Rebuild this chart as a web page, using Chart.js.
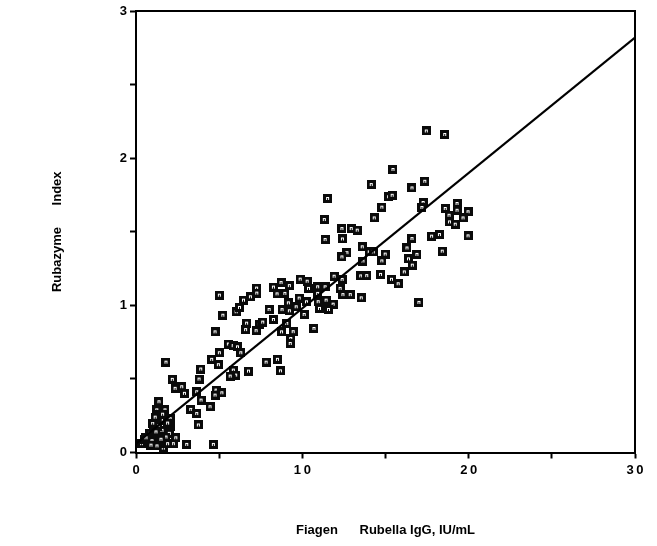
<!DOCTYPE html>
<html>
<head>
<meta charset="utf-8">
<title>Rubazyme vs Fiagen</title>
<script src="https://cdn.jsdelivr.net/npm/chart.js@4.4.1/dist/chart.umd.min.js"></script>
<style>
  html, body { margin: 0; padding: 0; background: #fff; }
  #wrap { width: 657px; height: 546px; }
</style>
</head>
<body>
<div id="wrap"><canvas id="chart" width="657" height="546"></canvas></div>
<script>
// Fiagen Rubella IgG (IU/mL) vs Rubazyme index

// x: Fiagen IU/mL
const fiagenValues = [
    0.34, 0.54, 0.84, 1.04, 1.14, 1.25, 1.38, 1.44, 1.44, 1.64, 1.64, 1.74, 2.05, 2.05, 2.0, 2.24, 2.39, 3.05, 4.65,
    0.72, 0.96, 1.26, 1.56, 1.8, 1.32, 0.6, 1.74,
    1.0, 1.2, 1.5, 1.9, 0.9, 1.15, 1.6, 1.9,
    1.80, 2.18, 2.35, 2.75, 2.91, 3.79, 3.65, 3.91, 3.89, 3.29, 3.65, 3.75, 4.45, 4.81, 5.16, 4.75,
    4.55, 4.95, 5.01, 5.55, 5.84, 6.10, 6.30, 4.75, 5.22, 6.02, 6.22, 5.85, 5.99, 5.66, 6.76, 7.82, 8.50, 8.68,
    5.01, 6.65, 6.59, 7.22, 7.42, 7.62, 8.26, 8.0, 6.46, 6.88, 7.25, 7.26, 8.26, 8.72, 9.22, 8.48, 8.95,
    9.87, 10.29, 10.37, 10.92, 11.37, 10.92, 9.81, 10.25, 10.95, 11.43, 11.85, 9.16, 8.78, 9.22, 9.63,
    11.03, 11.57, 10.11, 9.06, 8.75, 9.45, 9.30, 9.27, 10.70,
    11.91, 12.39, 12.27, 12.44, 12.88, 13.54, 13.51, 13.87, 14.70, 15.36, 15.76,
    12.68, 12.38, 13.64, 13.6, 14.02, 14.26, 14.98, 14.78,
    11.37, 12.41, 12.38, 12.94, 13.30, 11.32, 11.52, 14.32, 14.78, 15.19, 15.40, 14.14, 16.59, 17.36, 15.45,
    17.45, 18.56, 17.26, 17.19,
    18.59, 19.30, 19.30, 18.82, 19.96, 19.66, 18.85, 19.19, 19.96,
    17.77, 18.24, 18.41, 16.59, 16.29, 16.89, 16.38, 16.61, 16.13, 17.01
];

// y: Rubazyme index
const rubazymeValues = [
    0.06, 0.085, 0.13, 0.175, 0.11, 0.29, 0.345, 0.255, 0.085, 0.22, 0.03, 0.29, 0.23, 0.18, 0.13, 0.06, 0.10, 0.055, 0.055,
    0.06, 0.08, 0.045, 0.15, 0.105, 0.18, 0.10, 0.06,
    0.20, 0.14, 0.09, 0.20, 0.05, 0.24, 0.26, 0.06,
    0.614, 0.497, 0.436, 0.447, 0.402, 0.499, 0.413, 0.356, 0.567, 0.293, 0.265, 0.187, 0.311, 0.424, 0.406, 0.39,
    0.633, 0.597, 0.678, 0.737, 0.726, 0.718, 0.678, 0.82, 0.933, 0.956, 0.986, 0.56, 0.526, 0.519, 0.553, 0.614, 0.633, 0.555,
    1.069, 0.879, 0.835, 0.828, 0.872, 0.886, 0.904, 0.972, 1.035, 1.058, 1.117, 1.083, 1.124, 1.155, 1.134, 1.078, 1.081,
    1.178, 1.164, 1.115, 1.126, 1.126, 1.081, 1.049, 1.024, 1.025, 1.035, 1.008, 1.017, 0.971, 0.963, 0.99,
    0.979, 0.972, 0.938, 0.877, 0.82, 0.821, 0.775, 0.741, 0.843,
    1.198, 1.176, 1.115, 1.073, 1.073, 1.051, 1.20, 1.202, 1.21, 1.177, 1.147,
    1.358, 1.329, 1.301, 1.398, 1.363, 1.363, 1.348, 1.302,
    1.447, 1.451, 1.522, 1.522, 1.511, 1.583, 1.726, 1.594, 1.667, 1.738, 1.748, 1.821, 1.798, 1.843, 1.923,
    2.185, 2.161, 1.699, 1.665,
    1.658, 1.692, 1.646, 1.612, 1.636, 1.594, 1.567, 1.551, 1.472,
    1.47, 1.481, 1.368, 1.454, 1.39, 1.346, 1.316, 1.273, 1.227, 1.02
];

// regression line end points
const fitX = [0, 30];
const fitY = [0.06, 2.82];

// axis ticks
const xTickStep = 5;
const yTickStep = 0.5;

// Build a small black square marker with a light centre, like the printed symbol
function makeMarker() {
    const c = document.createElement('canvas');
    c.width = 9;
    c.height = 9;
    const g = c.getContext('2d');
    g.fillStyle = '#0a0a0a';
    g.fillRect(0, 0, 9, 9);
    g.fillStyle = '#fff';
    g.fillRect(3, 3, 3, 3);
    g.fillStyle = '#0a0a0a';
    g.fillRect(4, 4, 1, 2);
    return c;
}

// Draw top and right frame lines
const frame = {
    id: 'frame',
    afterDraw(chart) {
        const { ctx, chartArea: a } = chart;
        ctx.save();
        ctx.strokeStyle = '#000';
        ctx.lineWidth = 2;
        ctx.beginPath();
        ctx.moveTo(a.left, a.top);
        ctx.lineTo(a.right, a.top);
        ctx.lineTo(a.right, a.bottom);
        ctx.stroke();
        ctx.restore();
    }
};

const spaced = s => String(s).split('').join('\u2009');

const font = { family: "'Liberation Sans', Arial, sans-serif", size: 13, weight: 'bold' };

new Chart(document.getElementById('chart').getContext('2d'), {
    data: {
        datasets: [{
            type: 'scatter',
            data: fiagenValues.map((x, i) => ({ x: x, y: rubazymeValues[i] })),
            pointStyle: makeMarker(),
            pointRadius: 4.5,
            order: 2
        }, {
            type: 'line',
            data: fitX.map((x, i) => ({ x: x, y: fitY[i] })),
            borderColor: '#000',
            borderWidth: 2.2,
            pointRadius: 0,
            fill: false,
            order: 1
        }]
    },
    options: {
        responsive: false,
        animation: false,
        devicePixelRatio: 1,
        layout: { padding: { top: 11, right: 22, left: 0, bottom: 0 } },
        plugins: {
            legend: { display: false },
            tooltip: { enabled: false }
        },
        scales: {
            x: {
                type: 'linear',
                min: 0,
                max: 30,
                afterFit: scale => { scale.height = 93.5; },
                border: { display: true, color: '#000', width: 2 },
                grid: { drawOnChartArea: false, drawTicks: true, tickLength: 6, tickColor: '#000', tickWidth: 2 },
                ticks: {
                    stepSize: xTickStep,
                    color: '#000',
                    font: font,
                    padding: 4,
                    maxRotation: 0,
                    autoSkip: false,
                    callback: v => (v % 10 === 0 ? spaced(v) : '')
                },
                title: {
                    display: true,
                    text: 'Fiagen      Rubella IgG, IU/mL',
                    color: '#000',
                    font: font,
                    padding: { top: 0, bottom: 8 }
                }
            },
            y: {
                type: 'linear',
                min: 0,
                max: 3,
                afterFit: scale => { scale.width = 136; },
                border: { display: true, color: '#000', width: 2 },
                grid: { drawOnChartArea: false, drawTicks: true, tickLength: 6, tickColor: '#000', tickWidth: 2 },
                ticks: {
                    stepSize: yTickStep,
                    color: '#000',
                    font: font,
                    padding: 3,
                    autoSkip: false,
                    callback: v => (Number.isInteger(v) ? String(v) : '')
                },
                title: {
                    display: true,
                    text: 'Rubazyme      Index',
                    color: '#000',
                    font: font,
                    padding: { top: 50, bottom: 0 }
                }
            }
        }
    },
    plugins: [frame]
});
</script>
</body>
</html>
